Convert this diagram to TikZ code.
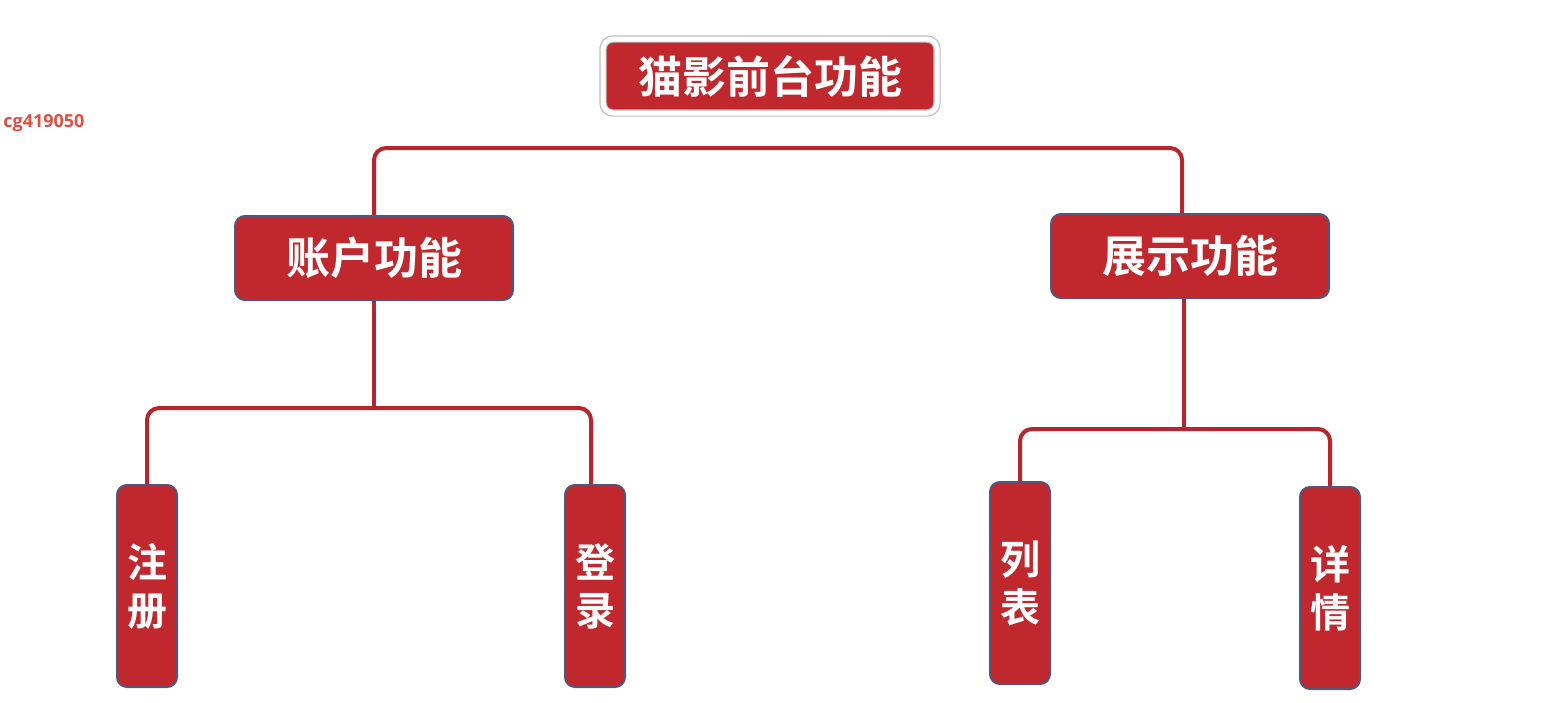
\documentclass[tikz,border=0pt]{standalone}
\usepackage{fontspec}
\newfontfamily\cjk{Noto Sans CJK SC Bold}
\newfontfamily\marksans{Open Sans}
\definecolor{boxred}{HTML}{C0282D}
\definecolor{linered}{HTML}{B8252D}
\definecolor{boxedge}{HTML}{55557A}
\definecolor{markred}{HTML}{E0503F}
\begin{document}
\begin{tikzpicture}[x=0.5pt,y=-0.5pt]
  \tikzset{
    box/.style={rectangle,rounded corners=5pt,fill=boxred,draw=boxedge,line width=1pt,
      text=white,font=\cjk\fontsize{22}{26}\selectfont,inner sep=0pt},
    wide/.style={box,minimum width=139pt,minimum height=42pt},
    tall/.style={box,minimum width=30pt,minimum height=101pt,align=center,
      font=\cjk\fontsize{20}{24}\selectfont},
    link/.style={draw=linered,line width=2pt,rounded corners=6pt}
  }
  \useasboundingbox (0,0) rectangle (1541,702);
  \node[box,draw=black!25,line width=0.6pt,double=white,double distance=2.5pt,
    minimum width=167pt,minimum height=37pt] (root) at (770,76) {猫影前台功能};
  \node[anchor=west,text=markred,font=\marksans\bfseries\fontsize{9}{10}\selectfont,inner sep=0pt] (mark) at (3,123) {cg419050};
  \node[wide] (acct) at (374,258) {账户功能};
  \node[wide] (show) at (1190,256) {展示功能};
  \node[tall] (reg) at (147,586) {注\\册};
  \node[tall] (login) at (595,586) {登\\录};
  \node[tall] (list) at (1020,583) {列\\表};
  \node[tall] (info) at (1330,588) {详\\情};
  % bus under the title
  \draw[link] (acct.north) -- ++(0,-67) -| ([xshift=-4pt]show.north);
  \draw[link] (acct.south) -- ++(0,107) coordinate (ab);
  \draw[link] (reg.north) -- (reg.north |- ab) -- ([xshift=-2pt]login.north |- ab) -- ([xshift=-2pt]login.north);
  \draw[link] ([xshift=-3pt]show.south) -- ++(0,130) coordinate (sb);
  \draw[link] (list.north) -- (list.north |- sb) -- (info.north |- sb) -- (info.north);
\end{tikzpicture}
\end{document}
